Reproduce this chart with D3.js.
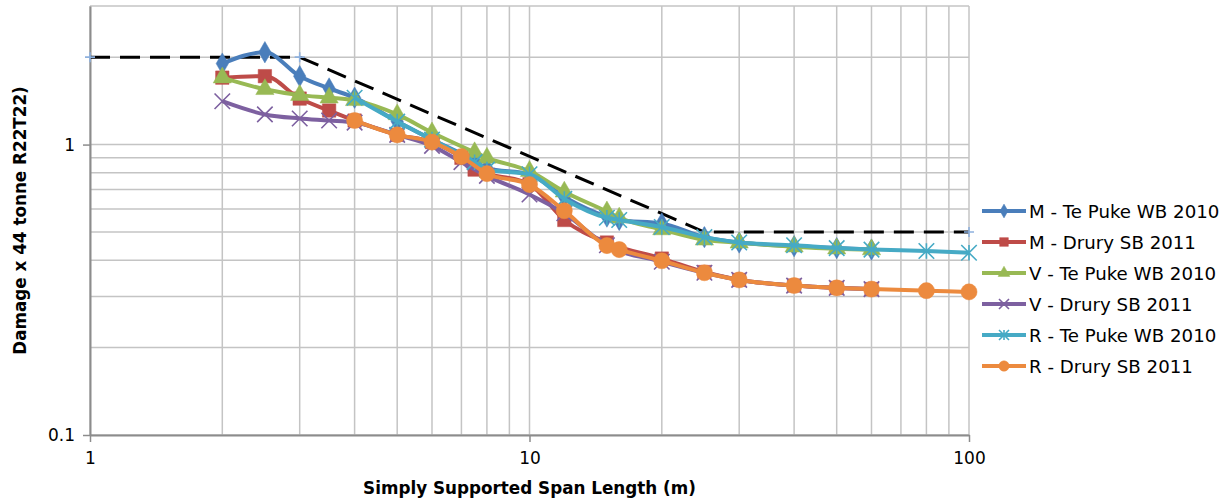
<!DOCTYPE html>
<html>
<head>
<meta charset="utf-8">
<script src="https://cdn.jsdelivr.net/npm/d3@7"></script>
<style>
  body { margin: 0; background: #fff; }
  text { font-family: "DejaVu Sans", Verdana, sans-serif; fill: #000; }
</style>
</head>
<body>
<div class="vis-chart"></div>
<script>
// span lengths (m)
const spansMTP = [2, 2.5, 3, 3.5, 4, 5, 6, 7.5, 8, 10, 12, 15, 16, 20, 25, 30, 40, 50, 60];
const spansDrury = [2, 2.5, 3, 3.5, 4, 5, 6, 7, 7.5, 10, 12, 15, 20, 25, 30, 40, 50, 60];
const spansVDrury = [2, 2.5, 3, 3.5, 4, 5, 6, 7, 8, 10, 12, 15, 20, 25, 30, 40, 50, 60];
const spansRTP = [4, 5, 6, 7.5, 8, 10, 12, 15, 16, 20, 25, 30, 40, 50, 60, 80, 100];
const spansRDrury = [4, 5, 6, 7, 8, 10, 12, 15, 16, 20, 25, 30, 40, 50, 60, 80, 100];
const spansLimit = [1, 3, 25, 100];

// damage values
const mTePuke = [1.90, 2.08, 1.72, 1.56, 1.45, 1.20, 1.04, 0.88, 0.83, 0.79, 0.66, 0.565, 0.55, 0.535, 0.48, 0.46, 0.447, 0.44, 0.435];
const mDrury = [1.70, 1.72, 1.44, 1.31, 1.21, 1.08, 1.02, 0.90, 0.82, 0.73, 0.55, 0.46, 0.405, 0.364, 0.342, 0.327, 0.321, 0.318];
const vTePuke = [1.70, 1.55, 1.48, 1.45, 1.42, 1.27, 1.10, 0.94, 0.90, 0.81, 0.688, 0.588, 0.56, 0.51, 0.47, 0.459, 0.445, 0.438, 0.435];
const vDrury = [1.41, 1.27, 1.23, 1.21, 1.19, 1.08, 0.99, 0.87, 0.78, 0.673, 0.58, 0.45, 0.395, 0.362, 0.342, 0.327, 0.321, 0.318];
const rTePuke = [1.45, 1.20, 1.04, 0.87, 0.82, 0.79, 0.65, 0.56, 0.55, 0.52, 0.48, 0.46, 0.45, 0.44, 0.435, 0.43, 0.424];
const rDrury = [1.21, 1.08, 1.02, 0.909, 0.794, 0.728, 0.592, 0.449, 0.435, 0.398, 0.362, 0.342, 0.327, 0.321, 0.318, 0.314, 0.311];
const limit = [2, 2, 0.5, 0.5];

const seriesNames = ['M - Te Puke WB 2010', 'M - Drury SB 2011', 'V - Te Puke WB 2010',
  'V - Drury SB 2011', 'R - Te Puke WB 2010', 'R - Drury SB 2011'];
const colors = ['#4A7EBB', '#BE4B48', '#98B954', '#7D60A0', '#46AAC5', '#EC8A3E'];
const markers = ['diamond', 'square', 'triangle', 'x', 'star', 'circle'];

const xTicks = [1, 10, 100];
const yTicks = [0.1, 1];

const series = [
  { xs: spansMTP, ys: mTePuke },
  { xs: spansDrury, ys: mDrury },
  { xs: spansMTP, ys: vTePuke },
  { xs: spansVDrury, ys: vDrury },
  { xs: spansRTP, ys: rTePuke },
  { xs: spansRDrury, ys: rDrury }
].map((s, i) => ({
  name: seriesNames[i],
  color: colors[i],
  marker: markers[i],
  points: s.xs.map((x, j) => ({ x, y: s.ys[j] }))
}));

const width = 1231;
const height = 500;
const plot = { left: 90, right: 969, top: 6, bottom: 435 };

const svg = d3.select('.vis-chart')
  .append('svg')
  .attr('width', width)
  .attr('height', height);

const x = d3.scaleLog().domain([1, 100]).range([plot.left, plot.right]);
const y = d3.scaleLog().domain([0.1, 3]).range([plot.bottom, plot.top]);

// gridlines
const xGrid = [];
[1, 10].forEach((d) => { for (let k = 1; k <= 10; k++) xGrid.push(d * k); });
const yGrid = [];
[0.1, 1].forEach((d) => { for (let k = 1; k <= 10; k++) if (d * k <= 3.0001) yGrid.push(d * k); });

svg.append('g')
  .selectAll('line')
  .data(Array.from(new Set(xGrid)))
  .enter()
  .append('line')
  .attr('x1', (d) => x(d)).attr('x2', (d) => x(d))
  .attr('y1', plot.top).attr('y2', plot.bottom)
  .attr('stroke', '#C4C4C4')
  .attr('stroke-width', 1.5);

svg.append('g')
  .selectAll('line')
  .data(Array.from(new Set(yGrid)))
  .enter()
  .append('line')
  .attr('x1', plot.left).attr('x2', plot.right)
  .attr('y1', (d) => y(d)).attr('y2', (d) => y(d))
  .attr('stroke', '#C4C4C4')
  .attr('stroke-width', 1.5);

// axes
const xAxis = svg.append('g')
  .attr('transform', `translate(0,${plot.bottom})`)
  .call(d3.axisBottom(x).tickValues(xTicks).tickFormat(d3.format(''))
    .tickSizeInner(7).tickSizeOuter(0).tickPadding(10));
const yAxis = svg.append('g')
  .attr('transform', `translate(${plot.left},0)`)
  .call(d3.axisLeft(y).tickValues(yTicks).tickFormat((d) => (d < 1 ? '0.1' : '1'))
    .tickSizeInner(7).tickSizeOuter(0).tickPadding(8));

[xAxis, yAxis].forEach((g) => {
  g.select('.domain').attr('stroke', '#8C8C8C').attr('stroke-width', 2);
  g.selectAll('.tick line').attr('stroke', '#8C8C8C').attr('stroke-width', 1.5);
  g.selectAll('.tick text')
    .attr('font-size', 17)
    .attr('font-family', '"DejaVu Sans", Verdana, sans-serif')
    .attr('fill', '#000');
});

// axis titles
svg.append('text')
  .attr('x', x(10))
  .attr('y', 494)
  .attr('text-anchor', 'middle')
  .attr('font-size', 16.8)
  .attr('font-weight', 'bold')
  .text('Simply Supported Span Length (m)');

svg.append('text')
  .attr('transform', `translate(26,${(plot.top + plot.bottom) / 2}) rotate(-90)`)
  .attr('text-anchor', 'middle')
  .attr('font-size', 16.8)
  .attr('font-weight', 'bold')
  .text('Damage x 44 tonne R22T22)');

// marker shapes
const markerPath = (type, s) => {
  if (type === 'diamond') return d3.symbol(d3.symbolDiamond, s * s * 0.55)();
  if (type === 'square') return d3.symbol(d3.symbolSquare, s * s * 0.75)();
  if (type === 'triangle') return d3.symbol(d3.symbolTriangle, s * s * 0.6)();
  if (type === 'circle') return d3.symbol(d3.symbolCircle, s * s * 0.85)();
  const h = s / 2;
  if (type === 'x') return `M${-h},${-h}L${h},${h}M${-h},${h}L${h},${-h}`;
  if (type === 'star') return `M${-h},${-h}L${h},${h}M${-h},${h}L${h},${-h}M0,${-h}L0,${h}`;
  if (type === 'plus') return `M${-h},0L${h},0M0,${-h}L0,${h}`;
  return '';
};

const drawMarker = (g, type, color, s) => {
  const stroked = type === 'x' || type === 'star' || type === 'plus';
  g.append('path')
    .attr('d', markerPath(type, s))
    .attr('fill', stroked ? 'none' : color)
    .attr('stroke', color)
    .attr('stroke-width', stroked ? 1.6 : 0.5);
};

const line = d3.line()
  .x((d) => x(d.x))
  .y((d) => y(d.y))
  .curve(d3.curveMonotoneX);

// dashed limit line
const limitPts = spansLimit.map((s, i) => ({ x: s, y: limit[i] }));
svg.append('path')
  .datum(limitPts)
  .attr('fill', 'none')
  .attr('stroke', '#000')
  .attr('stroke-width', 3)
  .attr('stroke-dasharray', '20,10')
  .attr('d', d3.line().x((d) => x(d.x)).y((d) => y(d.y)));
limitPts.forEach((p) => {
  const g = svg.append('g').attr('transform', `translate(${x(p.x)},${y(p.y)})`);
  drawMarker(g, 'plus', '#8EB1DE', 10);
});

// data series
series.forEach((s) => {
  const g = svg.append('g');
  g.append('path')
    .datum(s.points)
    .attr('fill', 'none')
    .attr('stroke', s.color)
    .attr('stroke-width', 4)
    .attr('stroke-linejoin', 'round')
    .attr('d', line);
  s.points.forEach((p) => {
    const m = g.append('g').attr('transform', `translate(${x(p.x)},${y(p.y)})`);
    drawMarker(m, s.marker, s.color, 15.5);
  });
});

// legend
const legend = svg.append('g');
series.forEach((s, i) => {
  const ly = 211 + i * 31;
  const item = legend.append('g');
  item.append('line')
    .attr('x1', 982).attr('x2', 1026)
    .attr('y1', ly).attr('y2', ly)
    .attr('stroke', s.color)
    .attr('stroke-width', 4);
  const m = item.append('g').attr('transform', `translate(1004,${ly})`);
  drawMarker(m, s.marker, s.color, 10);
  item.append('text')
    .attr('x', 1029)
    .attr('y', ly)
    .attr('dy', '0.36em')
    .attr('font-size', 18.2)
    .text(s.name);
});
</script>
</body>
</html>
